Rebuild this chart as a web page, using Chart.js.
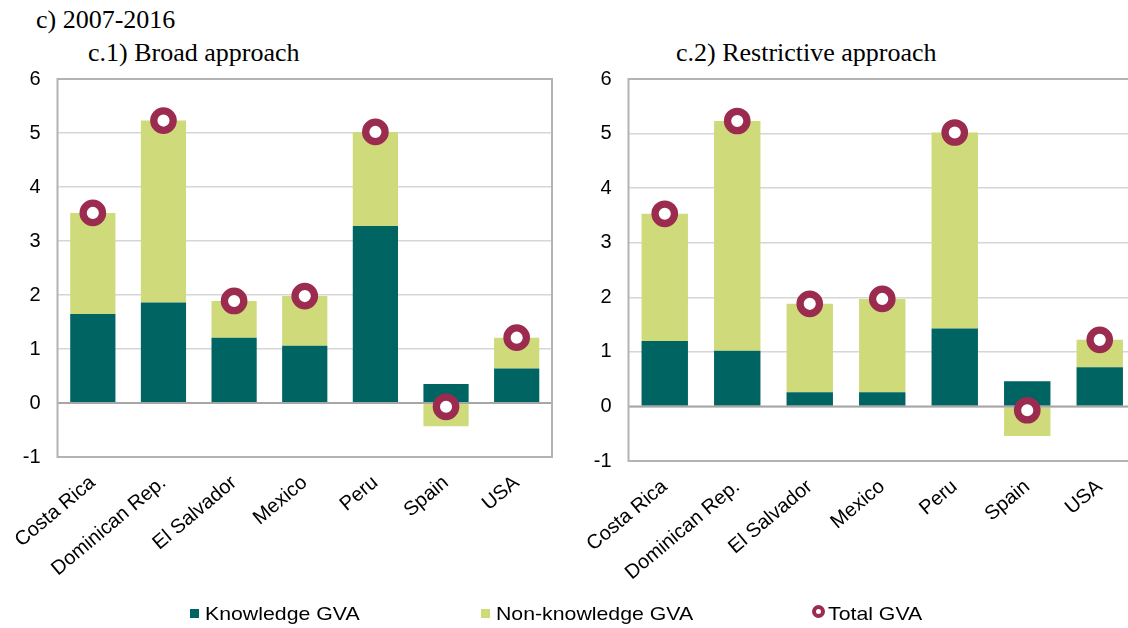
<!DOCTYPE html>
<html><head><meta charset="utf-8">
<script src="https://cdn.jsdelivr.net/npm/chart.js@4.4.1/dist/chart.umd.min.js"></script>
<style>
html,body{margin:0;padding:0;width:1128px;height:628px;overflow:hidden;background:#fff;position:relative;}
.t{position:absolute;font-family:"Liberation Serif","Times New Roman",serif;font-size:26px;color:#000;white-space:nowrap;line-height:26px;}
#w1{position:absolute;left:0;top:0;width:569px;height:628px;}
#w2{position:absolute;left:570px;top:0;width:583px;height:628px;}
.lt{position:absolute;top:604px;font-family:"Liberation Sans",Arial,sans-serif;font-size:19px;line-height:19px;color:#000;white-space:nowrap;transform:scaleX(1.12);transform-origin:left center;}
.sq{position:absolute;top:609px;width:9px;height:9px;}
.ci{position:absolute;left:812px;top:605px;width:5px;height:5px;border:4.5px solid #9b2c4f;border-radius:50%;background:#fff;}
</style></head>
<body>
<div class="t" style="left:36px;top:7px;">c) 2007-2016</div>
<div class="t" style="left:88px;top:40px;">c.1) Broad approach</div>
<div class="t" style="left:676px;top:40px;">c.2) Restrictive approach</div>
<div id="w1"><canvas id="c1"></canvas></div>
<div id="w2"><canvas id="c2"></canvas></div>
<div class="sq" style="left:190px;background:#006462;"></div>
<div class="lt" style="left:205px;">Knowledge GVA</div>
<div class="sq" style="left:481px;background:#cfda7b;"></div>
<div class="lt" style="left:496px;">Non-knowledge GVA</div>
<div class="ci"></div>
<div class="lt" style="left:828px;">Total GVA</div>
<script>
const categories = ['Costa Rica','Dominican Rep.','El Salvador','Mexico','Peru','Spain','USA'];
const broadKnowledge    = [1.65, 1.86, 1.21, 1.06, 3.28, 0.35, 0.64];
const broadNonKnowledge = [1.87, 3.37, 0.68, 0.92, 1.74, -0.43, 0.57];
const broadTotal        = [3.52, 5.23, 1.89, 1.98, 5.02, -0.07, 1.21];
const restrictKnowledge    = [1.20, 1.02, 0.26, 0.26, 1.43, 0.46, 0.72];
const restrictNonKnowledge = [2.33, 4.21, 1.62, 1.71, 3.59, -0.54, 0.50];
const restrictTotal        = [3.53, 5.23, 1.88, 1.97, 5.02, -0.07, 1.22];
const yTickMin = -1, yTickMax = 6, yTickStep = 1;

const TEAL = '#006462', GREEN = '#cfda7b', MAROON = '#9b2c4f';
const tickFont = {family:'"Liberation Sans", Arial, sans-serif', size:20};

const frame = {
  id:'frame',
  beforeDatasetDraw(chart, args){
    if (args.meta.type !== 'line') return;
    const {ctx, chartArea:a, scales:{y}} = chart;
    ctx.save();
    const z = y.getPixelForValue(0);
    ctx.strokeStyle = '#a6a6a6'; ctx.lineWidth = 2;
    ctx.beginPath(); ctx.moveTo(a.left, z); ctx.lineTo(a.right, z); ctx.stroke();
    ctx.strokeStyle = '#b3b3b3'; ctx.lineWidth = 2;
    ctx.strokeRect(a.left, a.top, a.right - a.left, a.bottom - a.top);
    ctx.restore();
  }
};

function makeChart(id, k, nk, tot, yW, xH){
  new Chart(document.getElementById(id), {
    type:'bar',
    data:{labels:categories, datasets:[
      {type:'line', label:'Total GVA', data:tot, showLine:false, pointRadius:9.7, pointHoverRadius:9.7,
       pointBorderWidth:7.3, pointBackgroundColor:'#fff', pointBorderColor:MAROON, stack:'total', order:0, clip:false},
      {label:'Knowledge GVA', data:k, backgroundColor:TEAL, borderWidth:0, stack:'gva', order:1,
       barPercentage:0.64, categoryPercentage:1},
      {label:'Non-knowledge GVA', data:nk, backgroundColor:GREEN, borderWidth:0, stack:'gva', order:1,
       barPercentage:0.64, categoryPercentage:1}
    ]},
    options:{
      responsive:true, maintainAspectRatio:false, animation:false, events:[],
      layout:{padding:{top:79, left:0, right:0, bottom:0}},
      plugins:{legend:{display:false}, tooltip:{enabled:false}},
      scales:{
        x:{stacked:true, grid:{display:false, drawTicks:false}, border:{display:false},
           ticks:{maxRotation:40, minRotation:40, autoSkip:false, font:tickFont, color:'#000', padding:14},
           afterFit:s=>{s.height = xH;}},
        y:{stacked:true, min:yTickMin, max:yTickMax,
           ticks:{stepSize:yTickStep, font:tickFont, color:'#000', padding:17},
           grid:{color:'#d6d6d6', lineWidth:1.5, drawTicks:false},
           border:{display:false},
           afterFit:s=>{s.width = yW;}}
      }
    },
    plugins:[frame]
  });
}
makeChart('c1', broadKnowledge, broadNonKnowledge, broadTotal, 54.5, 171);
makeChart('c2', restrictKnowledge, restrictNonKnowledge, restrictTotal, 58.5, 167);
</script>
</body></html>
